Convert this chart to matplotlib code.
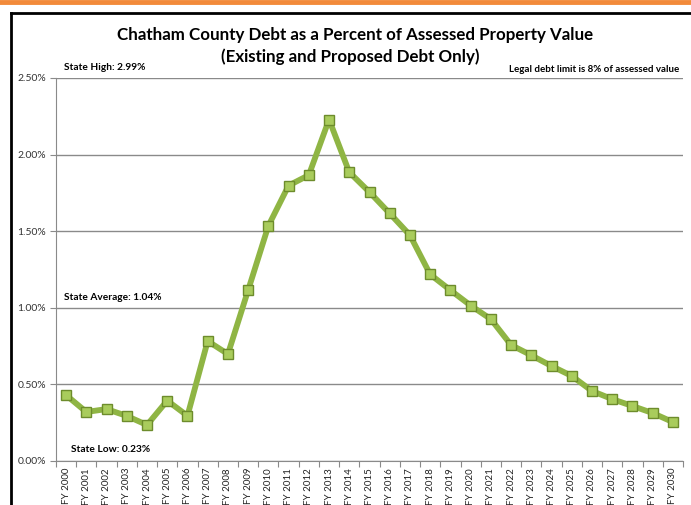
import matplotlib
matplotlib.use('Agg')
import matplotlib.pyplot as plt
from matplotlib.lines import Line2D
from matplotlib.ticker import FuncFormatter, FixedLocator

# fiscal years and debt ratio (percent of assessed value)
years = ['FY %d' % y for y in range(2000, 2031)]
debt_pct = [0.43, 0.32, 0.339, 0.294, 0.235, 0.394, 0.295, 0.783, 0.698, 1.115,
            1.535, 1.798, 1.866, 2.229, 1.885, 1.755, 1.616, 1.474, 1.218, 1.115,
            1.015, 0.926, 0.757, 0.69, 0.62, 0.555, 0.457, 0.404, 0.359, 0.313, 0.254]
y_ticks = [0.0, 0.5, 1.0, 1.5, 2.0, 2.5]

plt.rcParams['font.family'] = ['Lato', 'DejaVu Sans']

fig = plt.figure(figsize=(6.91, 5.05), dpi=100)
W, H = 691, 505
ax = fig.add_axes([56 / W, (H - 461) / H, 627 / W, 383 / H])

x = list(range(len(years)))
ax.plot(x, debt_pct, color='#8fb544', lw=4.2, solid_joinstyle='round', zorder=3,
        marker='s', ms=6.5, mfc='#a9cc5c', mec='#6d8c2c', mew=1)

ax.set_xlim(-0.5, len(years) - 0.5)
ax.set_ylim(0, 2.5)
ax.yaxis.set_major_locator(FixedLocator(y_ticks))
ax.yaxis.set_major_formatter(FuncFormatter(lambda v, p: '%.2f%%' % v))
ax.grid(axis='y', color='#8a8a8a', lw=1)
ax.set_axisbelow(True)

ax.set_xticks([i - 0.5 for i in range(len(years) + 1)])
ax.set_xticklabels([])
ax.set_xticks(x, minor=True)
ax.set_xticklabels(years, minor=True, rotation=90, fontsize=7, color='#222222')
ax.tick_params(axis='x', which='minor', length=0, pad=5)
ax.tick_params(axis='x', which='major', length=4, color='#8a8a8a')
ax.tick_params(axis='y', length=4, color='#8a8a8a', labelsize=7.5, pad=3,
               labelcolor='#333333')

for s in ['top', 'right']:
    ax.spines[s].set_visible(False)
for s in ['left', 'bottom']:
    ax.spines[s].set_color('#8a8a8a')

# title and notes
fig.text(355 / W, 1 - 35 / H, 'Chatham County Debt as a Percent of Assessed Property Value',
         ha='center', va='center', fontsize=12.2, fontweight='bold')
fig.text(350 / W, 1 - 57 / H, '(Existing and Proposed Debt Only)',
         ha='center', va='center', fontsize=12.2, fontweight='bold')
fig.text(64 / W, 1 - 67 / H, 'State High: 2.99%', ha='left', va='center',
         fontsize=7.3, fontweight='bold')
fig.text(679 / W, 1 - 70 / H, 'Legal debt limit is 8% of assessed value', ha='right',
         va='center', fontsize=7, fontweight='bold')
ax.text(-0.1, 1.04, 'State Average: 1.04%', ha='left', va='bottom',
        fontsize=7.3, fontweight='bold')
ax.text(0.25, 0.045, 'State Low: 0.23%', ha='left', va='bottom',
        fontsize=7.3, fontweight='bold')

# frame pieces
fig.add_artist(Line2D([0, 1], [1 - 2 / H, 1 - 2 / H], color='#f28a3a', lw=3.5))
fig.add_artist(Line2D([11 / W, 1], [1 - 13 / H, 1 - 13 / H], color='black', lw=2))
fig.add_artist(Line2D([11 / W, 11 / W], [0, 1 - 13 / H], color='black', lw=2))

fig.savefig('out.png', dpi=100)
